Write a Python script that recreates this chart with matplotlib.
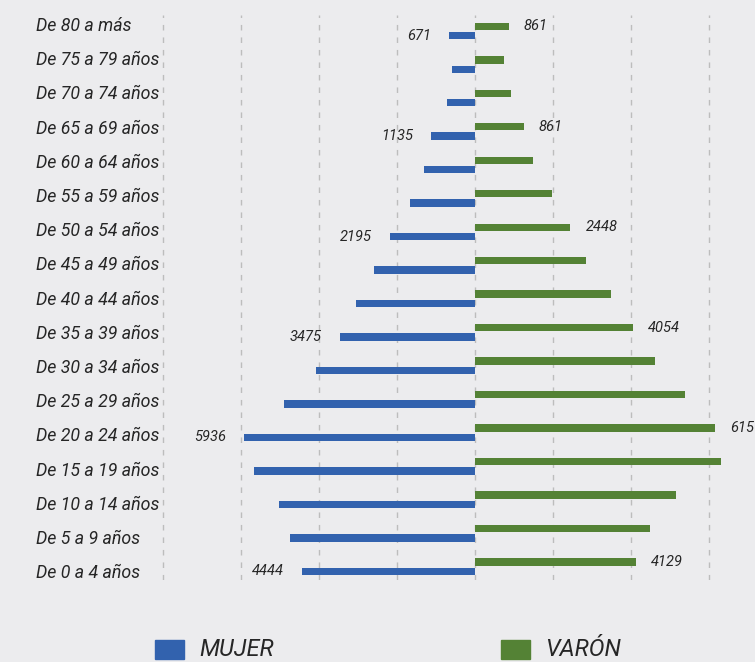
import matplotlib
matplotlib.use("Agg")
import matplotlib.pyplot as plt
from matplotlib import font_manager as fm

# age groups, bottom (0) to top
grupos = ["De 0 a 4 años", "De 5 a 9 años", "De 10 a 14 años", "De 15 a 19 años",
          "De 20 a 24 años", "De 25 a 29 años", "De 30 a 34 años", "De 35 a 39 años",
          "De 40 a 44 años", "De 45 a 49 años", "De 50 a 54 años", "De 55 a 59 años",
          "De 60 a 64 años", "De 65 a 69 años", "De 70 a 74 años", "De 75 a 79 años",
          "De 80 a más"]
mujer = [4444, 4760, 5040, 5680, 5936, 4910, 4090, 3475, 3060, 2600, 2195, 1670,
         1310, 1135, 720, 590, 671]
varon = [4129, 4500, 5170, 6320, 6157, 5400, 4630, 4054, 3500, 2850, 2448, 1980,
         1490, 1250, 925, 750, 861]

# data labels as printed on the chart
idx_etiq = [0, 4, 7, 10, 13, 16]
etiq_mujer = ["4444", "5936", "3475", "2195", "1135", "671"]
etiq_varon = ["4129", "6157", "4054", "2448", "861", "861"]

azul = "#3262ae"
verde = "#548235"
fondo = "#ececee"

fuente = "DejaVu Sans"
for f in ["Liberation Sans Narrow", "Roboto"]:
    try:
        fm.findfont(fm.FontProperties(family=f), fallback_to_default=False)
        fuente = f
        break
    except Exception:
        pass
plt.rcParams["font.family"] = [fuente, "DejaVu Sans"]

W, H = 755, 662
fig = plt.figure(figsize=(W / 100, H / 100), dpi=100, facecolor=fondo)

# axes in pixel terms: left 160, right 755, top 15, bottom 580
ax = fig.add_axes([160 / W, 1 - 580 / H, (755 - 160) / W, (580 - 15) / H])
ax.set_facecolor(fondo)
esc = 77.9 / 2000  # px per unit
ax.set_xlim(-(475 - 160) / esc, (755 - 475) / esc)
ax.set_ylim(-0.40, 16.48)

y = list(range(len(grupos)))
alto = 0.22
off = 0.14
ax.barh([v + off for v in y], varon, height=alto, color=verde, zorder=3)
ax.barh([v - off for v in y], [-m for m in mujer], height=alto, color=azul, zorder=3)

for g in range(-8000, 7000, 2000):
    ax.axvline(g, color="#bdbdbd", lw=1, ls=(0, (4, 5)), zorder=1)

for i, tm, tv in zip(idx_etiq, etiq_mujer, etiq_varon):
    ax.annotate(tm, (-mujer[i], i - off), xytext=(-13, 0), textcoords="offset points",
                ha="right", va="center", fontsize=10.5, style="italic", color="#262626",
                annotation_clip=False)
    ax.annotate(tv, (varon[i], i + off), xytext=(11, 0), textcoords="offset points",
                ha="left", va="center", fontsize=10.5, style="italic", color="#262626",
                annotation_clip=False)

for s in ax.spines.values():
    s.set_visible(False)
ax.set_xticks([])
ax.set_yticks([])

# category labels
for k, g in enumerate(reversed(grupos)):
    fig.text(36 / W, 1 - (26 + k * 34.2) / H, g, ha="left", va="center",
             fontsize=12.8, style="italic", color="#262626")

# legend
fig.patches.append(plt.Rectangle((155 / W, 1 - 659 / H), 29 / W, 19 / H,
                                 transform=fig.transFigure, color=azul))
fig.text(199 / W, 1 - 650 / H, "MUJER", ha="left", va="center", fontsize=17,
         style="italic", color="#262626")
fig.patches.append(plt.Rectangle((501 / W, 1 - 659 / H), 29 / W, 19 / H,
                                 transform=fig.transFigure, color=verde))
fig.text(545 / W, 1 - 650 / H, "VARÓN", ha="left", va="center", fontsize=17,
         style="italic", color="#262626")

fig.savefig("out.png", dpi=100, facecolor=fondo)
